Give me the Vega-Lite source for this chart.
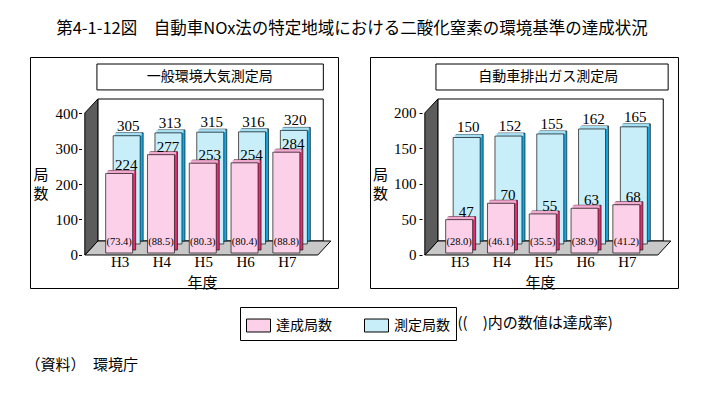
{
  "$schema": "https://vega.github.io/schema/vega-lite/v6.json",
  "padding": {"left": 25, "top": 21, "right": 5, "bottom": 5},
  "background": "white",
  "title": {"text": "第4-1-12図　自動車NOx法の特定地域における二酸化窒素の環境基準の達成状況", "font": "Noto Sans CJK JP", "fontSize": 16.5, "fontWeight": "normal", "anchor": "middle", "offset": 19, "color": "black"},
  "datasets": {
    "ambient": [
      {"年度": 3, "達成局数": 224, "測定局数": 305, "達成率": 73.4},
      {"年度": 4, "達成局数": 277, "測定局数": 313, "達成率": 88.5},
      {"年度": 5, "達成局数": 253, "測定局数": 315, "達成率": 80.3},
      {"年度": 6, "達成局数": 254, "測定局数": 316, "達成率": 80.4},
      {"年度": 7, "達成局数": 284, "測定局数": 320, "達成率": 88.8}
    ],
    "roadside": [
      {"年度": 3, "達成局数": 47, "測定局数": 150, "達成率": 28.0},
      {"年度": 4, "達成局数": 70, "測定局数": 152, "達成率": 46.1},
      {"年度": 5, "達成局数": 55, "測定局数": 155, "達成率": 35.5},
      {"年度": 6, "達成局数": 63, "測定局数": 162, "達成率": 38.9},
      {"年度": 7, "達成局数": 68, "測定局数": 165, "達成率": 41.2}
    ]
  },
  "vconcat": [
    {
      "title": {"text": "（資料）　環境庁", "orient": "bottom", "anchor": "start", "dx": -4, "offset": 27, "baseline": "top", "font": "Noto Sans CJK JP", "fontSize": 15, "fontWeight": "normal", "color": "black"},
      "vconcat": [
        {
          "title": {"text": "((　)内の数値は達成率)", "orient": "bottom", "anchor": "start", "dx": 428, "offset": 25, "baseline": "top", "font": "Noto Sans CJK JP", "fontSize": 15, "fontWeight": "normal", "color": "black"},
          "spacing": 30,
          "hconcat": [
            {
              "width": 308, "height": 231,
              "data": {"name": "ambient"},
              "layer": [
                {"data": {"values": [{}]}, "mark": {"type": "rect", "fill": "white", "stroke": "black", "strokeWidth": 1, "xOffset": 13, "x2Offset": 13, "yOffset": -14, "y2Offset": -14},
                 "encoding": {"x": {"datum": 2.1667, "type": "quantitative"}, "x2": {"datum": 7.56}, "y": {"datum": 0, "type": "quantitative"}, "y2": {"datum": 400}}},
                {"data": {"values": [{}]}, "mark": {"type": "point", "shape": "M0,0H233L246,-14H13Z", "size": 4, "filled": true, "fill": "#c8c8c8", "stroke": "black", "strokeWidth": 1, "opacity": 1},
                 "encoding": {"x": {"datum": 2.1667, "type": "quantitative"}, "y": {"datum": 0, "type": "quantitative"}}},
                {"data": {"values": [{}]}, "mark": {"type": "point", "shape": "M0,0V-142L13,-156V-14Z", "size": 4, "filled": true, "fill": "#5c5c5c", "stroke": "black", "strokeWidth": 1, "opacity": 1},
                 "encoding": {"x": {"datum": 2.1667, "type": "quantitative"}, "y": {"datum": 0, "type": "quantitative"}}},
                {"mark": {"type": "bar", "width": 27, "fill": "#10a8e6", "stroke": "#111", "strokeWidth": 0.7, "xOffset": 10, "yOffset": -14, "y2Offset": -14},
                 "encoding": {"x": {"field": "年度", "type": "quantitative"}, "y": {"field": "測定局数", "type": "quantitative"}, "y2": {"datum": 0}}},
                {"mark": {"type": "tick", "orient": "horizontal", "size": 27, "thickness": 3, "color": "#a6def2", "opacity": 1, "xOffset": 8.5, "yOffset": -12.5},
                 "encoding": {"x": {"field": "年度", "type": "quantitative"}, "y": {"field": "測定局数", "type": "quantitative"}}},
                {"mark": {"type": "bar", "width": 27, "stroke": "#111", "strokeWidth": 0.7, "xOffset": 7, "yOffset": -11, "y2Offset": -11, "opacity": 1},
                 "encoding": {"x": {"field": "年度", "type": "quantitative"}, "y": {"field": "測定局数", "type": "quantitative"}, "y2": {"datum": 0},
                   "color": {"datum": "測定局数", "type": "nominal", "scale": {"domain": ["達成局数", "測定局数"], "range": ["#fbd0e8", "#c8eef9"]},
                     "legend": {"orient": "none", "legendX": 210, "legendY": 250, "direction": "horizontal", "title": null, "strokeColor": "black", "fillColor": "white", "padding": 6, "symbolType": "M-1,-0.54H1V0.54H-1Z", "symbolSize": 576, "symbolStrokeColor": "black", "symbolStrokeWidth": 1, "symbolOpacity": 1, "labelFont": "Noto Sans CJK JP", "labelFontSize": 14, "labelColor": "black", "labelOffset": 5, "columnPadding": 30}}}},
                {"mark": {"type": "bar", "width": 27, "fill": "#e0306e", "stroke": "#111", "strokeWidth": 0.7, "xOffset": 2.5, "yOffset": -5, "y2Offset": -5},
                 "encoding": {"x": {"field": "年度", "type": "quantitative"}, "y": {"field": "達成局数", "type": "quantitative"}, "y2": {"datum": 0}}},
                {"mark": {"type": "tick", "orient": "horizontal", "size": 27, "thickness": 3, "color": "#f2a9cf", "opacity": 1, "xOffset": 1, "yOffset": -3.5},
                 "encoding": {"x": {"field": "年度", "type": "quantitative"}, "y": {"field": "達成局数", "type": "quantitative"}}},
                {"mark": {"type": "bar", "width": 27, "stroke": "#111", "strokeWidth": 0.7, "xOffset": -0.5, "yOffset": -2, "y2Offset": -2, "opacity": 1},
                 "encoding": {
                   "x": {"field": "年度", "type": "quantitative", "scale": {"domain": [0.9745, 8.1042], "nice": false, "zero": false},
                     "axis": {"title": "年度", "values": [3, 4, 5, 6, 7], "labelExpr": "'H' + datum.value", "offset": -33, "domain": false, "ticks": false, "labelPadding": -1, "labelFont": "Liberation Serif", "labelFontSize": 15, "titleFont": "Noto Sans CJK JP", "titleFontSize": 15, "titleFontWeight": "normal", "titleX": 172, "titleY": 27, "titleBaseline": "middle", "titleAlign": "center"}},
                   "y": {"field": "達成局数", "type": "quantitative", "scale": {"domain": [-92.96, 557.75], "nice": false, "zero": false},
                     "axis": {"title": ["局", "数"], "values": [0, 100, 200, 300, 400], "offset": -51.5, "domain": false, "ticks": true, "tickSize": 3, "tickColor": "black", "labelPadding": 1, "labelFont": "Liberation Serif", "labelFontSize": 15, "titleAngle": 0, "titleFont": "Noto Sans CJK JP", "titleFontSize": 15, "titleFontWeight": "normal", "titleX": -41, "titleY": 117, "titleBaseline": "middle", "titleAlign": "center", "titleLineHeight": 19}},
                   "y2": {"datum": 0},
                   "color": {"datum": "達成局数", "type": "nominal", "scale": {"domain": ["達成局数", "測定局数"], "range": ["#fbd0e8", "#c8eef9"]},
                     "legend": {"orient": "none", "legendX": 210, "legendY": 250, "direction": "horizontal", "title": null, "strokeColor": "black", "fillColor": "white", "padding": 6, "symbolType": "M-1,-0.54H1V0.54H-1Z", "symbolSize": 576, "symbolStrokeColor": "black", "symbolStrokeWidth": 1, "symbolOpacity": 1, "labelFont": "Noto Sans CJK JP", "labelFontSize": 14, "labelColor": "black", "labelOffset": 5, "columnPadding": 30}}}},
                {"mark": {"type": "text", "font": "Liberation Serif", "fontSize": 15, "dx": 8.5, "dy": -16, "baseline": "alphabetic", "color": "black"},
                 "encoding": {"x": {"field": "年度", "type": "quantitative"}, "y": {"field": "測定局数", "type": "quantitative"}, "text": {"field": "測定局数", "type": "quantitative"}}},
                {"mark": {"type": "text", "font": "Liberation Serif", "fontSize": 15, "dx": 6.5, "dy": -5, "baseline": "alphabetic", "color": "black"},
                 "encoding": {"x": {"field": "年度", "type": "quantitative"}, "y": {"field": "達成局数", "type": "quantitative"}, "text": {"field": "達成局数", "type": "quantitative"}}},
                {"transform": [{"calculate": "'(' + format(datum['達成率'], '.1f') + ')'", "as": "率表示"}],
                 "mark": {"type": "text", "font": "Liberation Serif", "fontSize": 10.5, "dx": -0.5, "dy": -13, "baseline": "middle", "color": "black"},
                 "encoding": {"x": {"field": "年度", "type": "quantitative"}, "y": {"datum": 0, "type": "quantitative"}, "text": {"field": "率表示"}}},
                {"data": {"values": [{}]}, "mark": {"type": "rect", "fill": "white", "stroke": "black", "strokeWidth": 1},
                 "encoding": {"x": {"datum": 2.456, "type": "quantitative"}, "x2": {"datum": 7.873}, "y": {"datum": 538, "type": "quantitative"}, "y2": {"datum": 465}}},
                {"data": {"values": [{"見出し": "一般環境大気測定局"}]}, "mark": {"type": "text", "font": "Noto Sans CJK JP", "fontSize": 14, "baseline": "middle", "align": "center", "color": "black"},
                 "encoding": {"x": {"datum": 5.153, "type": "quantitative"}, "y": {"datum": 501.4, "type": "quantitative"}, "text": {"field": "見出し"}}}
              ]
            },
            {
              "width": 308, "height": 231,
              "data": {"name": "roadside"},
              "layer": [
                {"data": {"values": [{}]}, "mark": {"type": "rect", "fill": "white", "stroke": "black", "strokeWidth": 1, "xOffset": 13, "x2Offset": 13, "yOffset": -14, "y2Offset": -14},
                 "encoding": {"x": {"datum": 2.1667, "type": "quantitative"}, "x2": {"datum": 7.56}, "y": {"datum": 0, "type": "quantitative"}, "y2": {"datum": 200}}},
                {"data": {"values": [{}]}, "mark": {"type": "point", "shape": "M0,0H233L246,-14H13Z", "size": 4, "filled": true, "fill": "#c8c8c8", "stroke": "black", "strokeWidth": 1, "opacity": 1},
                 "encoding": {"x": {"datum": 2.1667, "type": "quantitative"}, "y": {"datum": 0, "type": "quantitative"}}},
                {"data": {"values": [{}]}, "mark": {"type": "point", "shape": "M0,0V-142L13,-156V-14Z", "size": 4, "filled": true, "fill": "#5c5c5c", "stroke": "black", "strokeWidth": 1, "opacity": 1},
                 "encoding": {"x": {"datum": 2.1667, "type": "quantitative"}, "y": {"datum": 0, "type": "quantitative"}}},
                {"mark": {"type": "bar", "width": 27, "fill": "#10a8e6", "stroke": "#111", "strokeWidth": 0.7, "xOffset": 10, "yOffset": -14, "y2Offset": -14},
                 "encoding": {"x": {"field": "年度", "type": "quantitative"}, "y": {"field": "測定局数", "type": "quantitative"}, "y2": {"datum": 0}}},
                {"mark": {"type": "tick", "orient": "horizontal", "size": 27, "thickness": 3, "color": "#a6def2", "opacity": 1, "xOffset": 8.5, "yOffset": -12.5},
                 "encoding": {"x": {"field": "年度", "type": "quantitative"}, "y": {"field": "測定局数", "type": "quantitative"}}},
                {"mark": {"type": "bar", "width": 27, "stroke": "#111", "strokeWidth": 0.7, "xOffset": 7, "yOffset": -11, "y2Offset": -11, "opacity": 1},
                 "encoding": {"x": {"field": "年度", "type": "quantitative"}, "y": {"field": "測定局数", "type": "quantitative"}, "y2": {"datum": 0},
                   "color": {"datum": "測定局数", "type": "nominal", "scale": {"domain": ["達成局数", "測定局数"], "range": ["#fbd0e8", "#c8eef9"]},
                     "legend": {"orient": "none", "legendX": 210, "legendY": 250, "direction": "horizontal", "title": null, "strokeColor": "black", "fillColor": "white", "padding": 6, "symbolType": "M-1,-0.54H1V0.54H-1Z", "symbolSize": 576, "symbolStrokeColor": "black", "symbolStrokeWidth": 1, "symbolOpacity": 1, "labelFont": "Noto Sans CJK JP", "labelFontSize": 14, "labelColor": "black", "labelOffset": 5, "columnPadding": 30}}}},
                {"mark": {"type": "bar", "width": 27, "fill": "#e0306e", "stroke": "#111", "strokeWidth": 0.7, "xOffset": 2.5, "yOffset": -5, "y2Offset": -5},
                 "encoding": {"x": {"field": "年度", "type": "quantitative"}, "y": {"field": "達成局数", "type": "quantitative"}, "y2": {"datum": 0}}},
                {"mark": {"type": "tick", "orient": "horizontal", "size": 27, "thickness": 3, "color": "#f2a9cf", "opacity": 1, "xOffset": 1, "yOffset": -3.5},
                 "encoding": {"x": {"field": "年度", "type": "quantitative"}, "y": {"field": "達成局数", "type": "quantitative"}}},
                {"mark": {"type": "bar", "width": 27, "stroke": "#111", "strokeWidth": 0.7, "xOffset": -0.5, "yOffset": -2, "y2Offset": -2, "opacity": 1},
                 "encoding": {
                   "x": {"field": "年度", "type": "quantitative", "scale": {"domain": [0.9745, 8.1042], "nice": false, "zero": false},
                     "axis": {"title": "年度", "values": [3, 4, 5, 6, 7], "labelExpr": "'H' + datum.value", "offset": -33, "domain": false, "ticks": false, "labelPadding": -1, "labelFont": "Liberation Serif", "labelFontSize": 15, "titleFont": "Noto Sans CJK JP", "titleFontSize": 15, "titleFontWeight": "normal", "titleX": 170, "titleY": 27, "titleBaseline": "middle", "titleAlign": "center"}},
                   "y": {"field": "達成局数", "type": "quantitative", "scale": {"domain": [-46.48, 278.87], "nice": false, "zero": false},
                     "axis": {"title": ["局", "数"], "values": [0, 50, 100, 150, 200], "offset": -52, "domain": false, "ticks": true, "tickSize": 3, "tickColor": "black", "labelPadding": 3, "labelFont": "Liberation Serif", "labelFontSize": 15, "titleAngle": 0, "titleFont": "Noto Sans CJK JP", "titleFontSize": 15, "titleFontWeight": "normal", "titleX": -42, "titleY": 117, "titleBaseline": "middle", "titleAlign": "center", "titleLineHeight": 19}},
                   "y2": {"datum": 0},
                   "color": {"datum": "達成局数", "type": "nominal", "scale": {"domain": ["達成局数", "測定局数"], "range": ["#fbd0e8", "#c8eef9"]},
                     "legend": {"orient": "none", "legendX": 210, "legendY": 250, "direction": "horizontal", "title": null, "strokeColor": "black", "fillColor": "white", "padding": 6, "symbolType": "M-1,-0.54H1V0.54H-1Z", "symbolSize": 576, "symbolStrokeColor": "black", "symbolStrokeWidth": 1, "symbolOpacity": 1, "labelFont": "Noto Sans CJK JP", "labelFontSize": 14, "labelColor": "black", "labelOffset": 5, "columnPadding": 30}}}},
                {"mark": {"type": "text", "font": "Liberation Serif", "fontSize": 15, "dx": 8.5, "dy": -16, "baseline": "alphabetic", "color": "black"},
                 "encoding": {"x": {"field": "年度", "type": "quantitative"}, "y": {"field": "測定局数", "type": "quantitative"}, "text": {"field": "測定局数", "type": "quantitative"}}},
                {"mark": {"type": "text", "font": "Liberation Serif", "fontSize": 15, "dx": 6.5, "dy": -5, "baseline": "alphabetic", "color": "black"},
                 "encoding": {"x": {"field": "年度", "type": "quantitative"}, "y": {"field": "達成局数", "type": "quantitative"}, "text": {"field": "達成局数", "type": "quantitative"}}},
                {"transform": [{"calculate": "'(' + format(datum['達成率'], '.1f') + ')'", "as": "率表示"}],
                 "mark": {"type": "text", "font": "Liberation Serif", "fontSize": 10.5, "dx": -0.5, "dy": -13, "baseline": "middle", "color": "black"},
                 "encoding": {"x": {"field": "年度", "type": "quantitative"}, "y": {"datum": 0, "type": "quantitative"}, "text": {"field": "率表示"}}},
                {"data": {"values": [{}]}, "mark": {"type": "rect", "fill": "white", "stroke": "black", "strokeWidth": 1},
                 "encoding": {"x": {"datum": 2.433, "type": "quantitative"}, "x2": {"datum": 7.988}, "y": {"datum": 269, "type": "quantitative"}, "y2": {"datum": 232.4}}},
                {"data": {"values": [{"見出し": "自動車排出ガス測定局"}]}, "mark": {"type": "text", "font": "Noto Sans CJK JP", "fontSize": 14, "baseline": "middle", "align": "center", "color": "black"},
                 "encoding": {"x": {"datum": 5.118, "type": "quantitative"}, "y": {"datum": 250.7, "type": "quantitative"}, "text": {"field": "見出し"}}}
              ]
            }
          ]
        }
      ]
    }
  ],
  "config": {
    "view": {"stroke": "black", "strokeWidth": 1},
    "axis": {"labelColor": "black", "titleColor": "black", "grid": false},
    "legend": {"labelColor": "black"}
  }
}
